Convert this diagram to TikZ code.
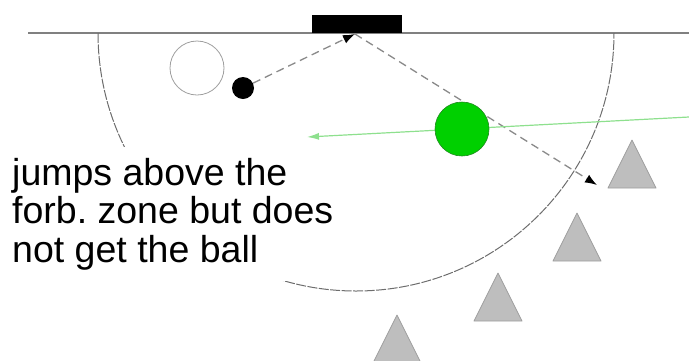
\documentclass[tikz,border=0pt]{standalone}
\usepackage{fontspec}
\setmainfont{Liberation Sans}
\usetikzlibrary{arrows.meta}
\definecolor{lineGray}{HTML}{808080}
\definecolor{pathGray}{HTML}{8A8A8A}
\definecolor{coneGray}{HTML}{BEBEBE}
\definecolor{coneEdge}{HTML}{9E9E9E}
\definecolor{ballGreen}{HTML}{00D000}
\definecolor{ballEdge}{HTML}{1F8A1F}
\definecolor{flightGreen}{HTML}{8EE08E}

\begin{document}
\frenchspacing
\begin{tikzpicture}[x=1pt,y=-1pt,>={Latex[length=12pt,width=9pt,color=black]}]
  \useasboundingbox (0,0) rectangle (689,360);
  \clip (0,0) rectangle (689,360);
  % goal line and forbidden zone
  \draw[lineGray,line width=1.4pt] (28,33) -- (689,33);
  \draw[lineGray!85!black,line width=1pt,dash pattern=on 10pt off 1.5pt]
    (98,33) arc[start angle=180,end angle=0,radius=258];
  \node[fill=black,minimum width=90pt,minimum height=18pt,inner sep=0pt]
    (goal) at (357,24) {};
  % players
  \node[circle,draw=coneEdge,line width=0.8pt,minimum size=54pt,inner sep=0pt]
    (start) at (197,68) {};
  \node[circle,fill=black,minimum size=22pt,inner sep=0pt] (jumper) at (243,88) {};
  \coordinate (touch) at (355,34);
  \coordinate (land) at (597,185);
  \draw[->,pathGray,line width=1.3pt,dash pattern=on 8pt off 5pt]
    (jumper) -- (touch);
  \draw[->,pathGray,line width=1.3pt,dash pattern=on 8pt off 5pt]
    (touch) -- (land);
  % ball
  \coordinate (kick) at (689,117);
  \coordinate (pass) at (307,137);
  \draw[->,flightGreen,line width=1.2pt,>={Latex[length=12pt,width=7pt]}]
    (kick) -- (pass);
  \node[circle,fill=ballGreen,draw=ballEdge,line width=0.6pt,minimum size=54pt,
    inner sep=0pt] (ball) at (462,129) {};
  % wall of defenders
  \foreach \x/\y in {632/140,577/213,498/273,397/315}
    \draw[fill=coneGray,draw=coneEdge,line width=0.8pt,line join=round]
      (\x,\y) -- ++(24,48) -- ++(-48,0) -- cycle;
  \node[anchor=north west,align=left,fill=white,inner xsep=4pt,inner ysep=11pt,
    font=\fontsize{37.5}{38.5}\selectfont] (note) at (8,147)
    {jumps above the\\forb. zone but does\\not get the ball};
\end{tikzpicture}
\end{document}
